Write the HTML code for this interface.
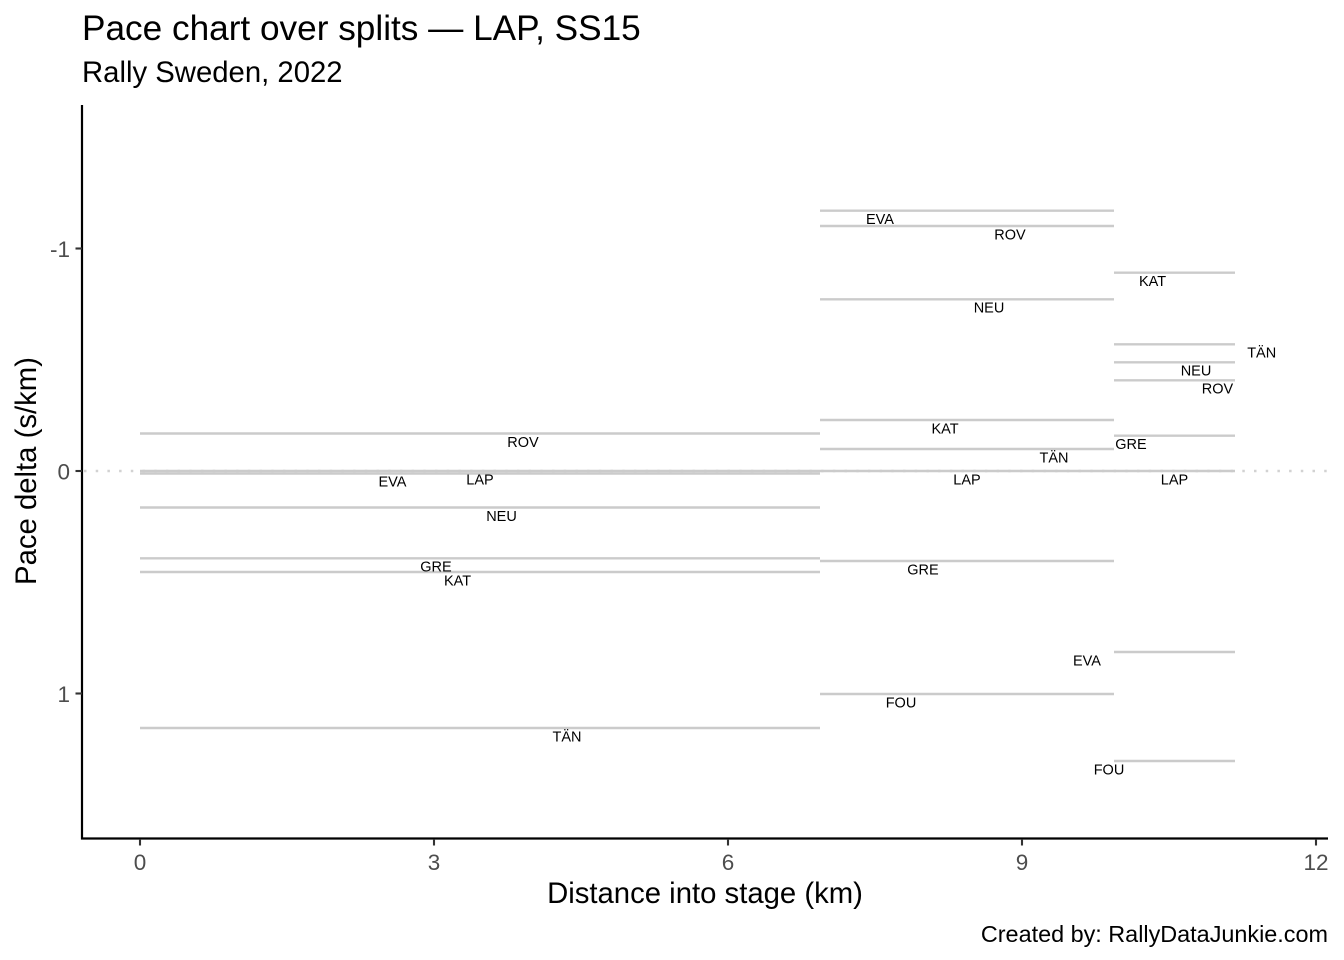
<!DOCTYPE html>
<html>
<head>
<meta charset="utf-8">
<style>
  html, body { margin: 0; padding: 0; background: #ffffff; }
  svg { display: block; }
  text { font-family: "Liberation Sans", Arial, Helvetica, sans-serif; }
</style>
</head>
<body>
<svg width="1344" height="960" viewBox="0 0 1344 960" xmlns="http://www.w3.org/2000/svg">
  <rect x="0" y="0" width="1344" height="960" fill="#ffffff"/>

  <!-- Title / subtitle -->
  <text x="82" y="40" font-size="35.2" fill="#000000">Pace chart over splits — LAP, SS15</text>
  <text x="82" y="82" font-size="29.3" fill="#000000">Rally Sweden, 2022</text>

  <!-- Zero reference dotted line -->
  <line x1="84" y1="471" x2="1328" y2="471" stroke="#d2d2d2" stroke-width="2.4" stroke-dasharray="2.5 9.2"/>

  <!-- Segment lines -->
  <g stroke="#cbcbcb" stroke-width="2.4" fill="none">
    <!-- seg 1 -->
    <line x1="140" y1="433.5" x2="820" y2="433.5"/>
    <line x1="140" y1="471" x2="820" y2="471"/>
    <line x1="140" y1="473.5" x2="820" y2="473.5"/>
    <line x1="140" y1="507.5" x2="820" y2="507.5"/>
    <line x1="140" y1="558.3" x2="820" y2="558.3"/>
    <line x1="140" y1="572" x2="820" y2="572"/>
    <line x1="140" y1="728" x2="820" y2="728"/>
    <!-- seg 2 -->
    <line x1="820" y1="210.7" x2="1114" y2="210.7"/>
    <line x1="820" y1="226" x2="1114" y2="226"/>
    <line x1="820" y1="299.3" x2="1114" y2="299.3"/>
    <line x1="820" y1="420" x2="1114" y2="420"/>
    <line x1="820" y1="449" x2="1114" y2="449"/>
    <line x1="820" y1="471" x2="1114" y2="471"/>
    <line x1="820" y1="561" x2="1114" y2="561"/>
    <line x1="820" y1="694" x2="1114" y2="694"/>
    <!-- seg 3 -->
    <line x1="1114" y1="272.7" x2="1235" y2="272.7"/>
    <line x1="1114" y1="344.3" x2="1235" y2="344.3"/>
    <line x1="1114" y1="362.3" x2="1235" y2="362.3"/>
    <line x1="1114" y1="380.3" x2="1235" y2="380.3"/>
    <line x1="1114" y1="435.7" x2="1235" y2="435.7"/>
    <line x1="1114" y1="471" x2="1235" y2="471"/>
    <line x1="1114" y1="652" x2="1235" y2="652"/>
    <line x1="1114" y1="761" x2="1235" y2="761"/>
  </g>

  <!-- Segment labels -->
  <g font-size="14.5" fill="#000000" text-anchor="middle">
    <!-- seg 1 -->
    <text x="523" y="447">ROV</text>
    <text x="392.5" y="486.5">EVA</text>
    <text x="480" y="484.5">LAP</text>
    <text x="501.5" y="521">NEU</text>
    <text x="436" y="571.5">GRE</text>
    <text x="457.5" y="585.5">KAT</text>
    <text x="567" y="741.5">TÄN</text>
    <!-- seg 2 -->
    <text x="880" y="224">EVA</text>
    <text x="1010" y="239.5">ROV</text>
    <text x="989" y="312.5">NEU</text>
    <text x="945" y="433.5">KAT</text>
    <text x="1054" y="462.5">TÄN</text>
    <text x="967" y="484.5">LAP</text>
    <text x="923" y="574.5">GRE</text>
    <text x="901" y="707.5">FOU</text>
    <!-- seg 3 -->
    <text x="1152.5" y="286">KAT</text>
    <text x="1261.7" y="357.5">TÄN</text>
    <text x="1196" y="375.5">NEU</text>
    <text x="1217.5" y="393.5">ROV</text>
    <text x="1131" y="449">GRE</text>
    <text x="1174.5" y="484.5">LAP</text>
    <text x="1087" y="665.5">EVA</text>
    <text x="1109" y="774.5">FOU</text>
  </g>

  <!-- Axes -->
  <line x1="82" y1="105" x2="82" y2="839.5" stroke="#000000" stroke-width="2.2"/>
  <line x1="81" y1="838.5" x2="1328" y2="838.5" stroke="#000000" stroke-width="2.2"/>

  <!-- X ticks -->
  <g stroke="#333333" stroke-width="2.1">
    <line x1="140" y1="839" x2="140" y2="845.5"/>
    <line x1="434" y1="839" x2="434" y2="845.5"/>
    <line x1="728" y1="839" x2="728" y2="845.5"/>
    <line x1="1022" y1="839" x2="1022" y2="845.5"/>
    <line x1="1316" y1="839" x2="1316" y2="845.5"/>
  </g>
  <g font-size="22.5" fill="#4d4d4d" text-anchor="middle">
    <text x="140" y="870">0</text>
    <text x="434" y="870">3</text>
    <text x="728" y="870">6</text>
    <text x="1022" y="870">9</text>
    <text x="1316" y="870">12</text>
  </g>

  <!-- Y ticks -->
  <g stroke="#333333" stroke-width="2.1">
    <line x1="75.5" y1="248.5" x2="82" y2="248.5"/>
    <line x1="75.5" y1="471" x2="82" y2="471"/>
    <line x1="75.5" y1="693.5" x2="82" y2="693.5"/>
  </g>
  <g font-size="22.5" fill="#4d4d4d" text-anchor="end">
    <text x="70" y="257">-1</text>
    <text x="70" y="479.5">0</text>
    <text x="70" y="702">1</text>
  </g>

  <!-- Axis titles -->
  <text x="705" y="903" font-size="29.3" fill="#000000" text-anchor="middle">Distance into stage (km)</text>
  <text transform="translate(36,471) rotate(-90)" x="0" y="0" font-size="29.3" fill="#000000" text-anchor="middle">Pace delta (s/km)</text>

  <!-- Caption -->
  <text x="1328" y="942" font-size="23.4" fill="#000000" text-anchor="end">Created by: RallyDataJunkie.com</text>
</svg>
</body>
</html>
